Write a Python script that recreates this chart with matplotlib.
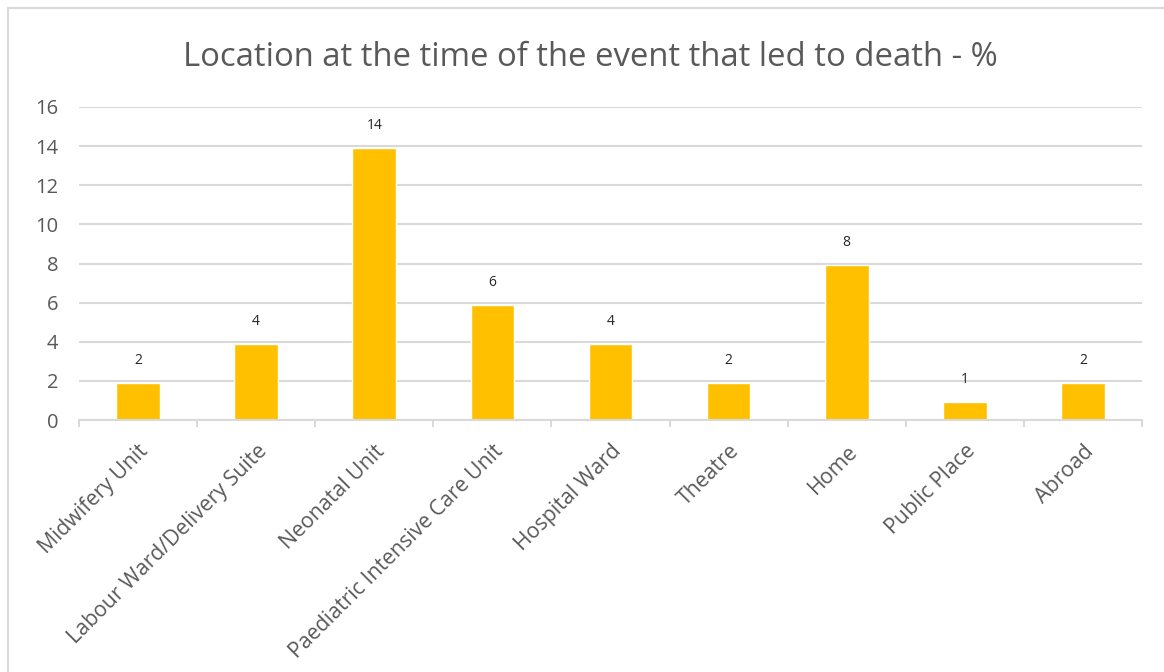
import numpy as np
import matplotlib
matplotlib.use('Agg')
import matplotlib.pyplot as plt
from matplotlib.patches import Rectangle

# data
locations = ['Midwifery Unit', 'Labour Ward/Delivery Suite', 'Neonatal Unit',
             'Paediatric Intensive Care Unit', 'Hospital Ward', 'Theatre',
             'Home', 'Public Place', 'Abroad']
percent = [1.9, 3.9, 13.9, 5.9, 3.9, 1.9, 7.9, 0.9, 1.9]
yticks = [0, 2, 4, 6, 8, 10, 12, 14, 16]
title = 'Location at the time of the event that led to death - %'

plt.rcParams['font.family'] = ['Open Sans', 'DejaVu Sans']

fig = plt.figure(figsize=(11.64, 6.72), dpi=100)
ax = fig.add_axes([79 / 1164, 1 - 420 / 672, (1142 - 79) / 1164, (420 - 107) / 672])

# chart border (only top/left visible, image is cropped)
fig.patches.append(Rectangle((8 / 1164, -0.1), 1.2, 1 - 8 / 672 + 0.1,
                             transform=fig.transFigure, fill=False,
                             edgecolor='#d9d9d9', lw=1.5, zorder=0))

x = np.arange(len(locations))
bars = ax.bar(x, percent, width=0.37, color='#ffc000', edgecolor='white',
              linewidth=1.0, zorder=3)

for b, v in zip(bars, percent):
    ax.annotate(f'{v:.0f}', (b.get_x() + b.get_width() / 2, v),
                xytext=(0, 15), textcoords='offset pixels',
                ha='center', va='bottom', fontsize=10, color='#262626')

ax.set_xlim(-0.5, len(locations) - 0.5)
ax.set_ylim(0, 16)
ax.set_yticks(yticks)
ax.yaxis.grid(True, color='#d9d9d9', lw=1.5, zorder=0)
ax.set_axisbelow(True)

for s in ['top', 'right', 'left']:
    ax.spines[s].set_visible(False)
ax.spines['bottom'].set_color('#d9d9d9')
ax.spines['bottom'].set_linewidth(1.5)
ax.spines['bottom'].set_zorder(4)

ax.tick_params(axis='y', length=0, pad=15, labelsize=14.5, labelcolor='#595959')

# category labels at centers, tick marks at boundaries
ax.set_xticks(x)
ax.set_xticklabels(locations, rotation=45, ha='right', rotation_mode='anchor',
                   fontsize=15.3, color='#595959')
ax.tick_params(axis='x', length=0, pad=15)
ax.set_xticks(np.arange(len(locations) + 1) - 0.5, minor=True)
ax.tick_params(axis='x', which='minor', length=5, width=1.5, color='#d9d9d9',
               direction='out')

fig.text(0.507, 1 - 58 / 672, title, ha='center', va='center',
         fontsize=23.7, color='#595959')

fig.savefig('out.png', dpi=100, facecolor='white')
